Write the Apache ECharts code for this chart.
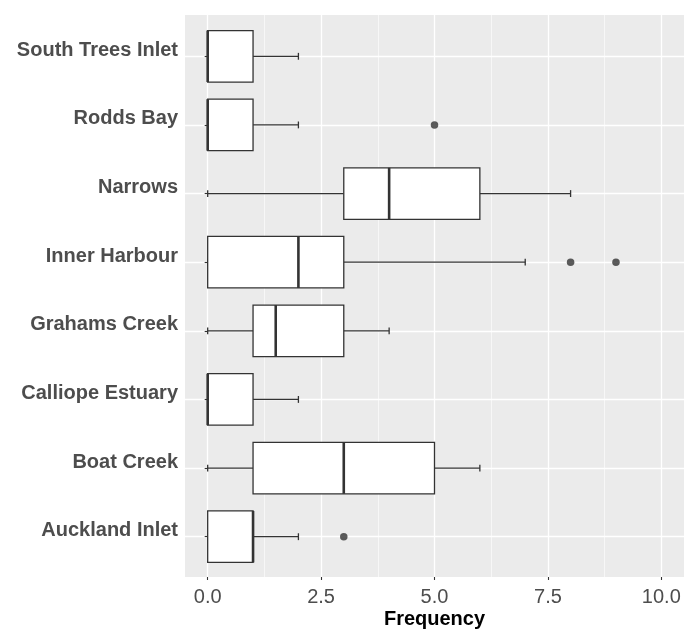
<!DOCTYPE html>
<html>
<head>
<meta charset="utf-8">
<script src="https://cdn.jsdelivr.net/npm/echarts@6/dist/echarts.min.js"></script>
<style>
html,body{margin:0;padding:0;background:#fff;}
#chart{width:684px;height:631px;}
</style>
</head>
<body>
<div id="chart"></div>
<script>
// Categories, top to bottom
const categories = ['South Trees Inlet','Rodds Bay','Narrows','Inner Harbour','Grahams Creek','Calliope Estuary','Boat Creek','Auckland Inlet'];
// Box statistics per category: lower whisker, Q1, median, Q3, upper whisker
const lowerWhisker = [0, 0, 0, 0, 0, 0, 0, 0];
const q1Values     = [0, 0, 3, 0, 1, 0, 1, 0];
const medianValues = [0, 0, 4, 2, 1.5, 0, 3, 1];
const q3Values     = [1, 1, 6, 3, 3, 1, 5, 1];
const upperWhisker = [2, 2, 8, 7, 4, 2, 6, 2];
// Outliers: [value, category]
const outliers = [[5,'Rodds Bay'],[8,'Inner Harbour'],[9,'Inner Harbour'],[3,'Auckland Inlet']];
const xTicks = [0, 2.5, 5, 7.5, 10];
const xMinorTicks = [1.25, 3.75, 6.25, 8.75];
const xMin = -0.5, xMax = 10.5;

const boxData = categories.map((c, i) => [i, lowerWhisker[i], q1Values[i], medianValues[i], q3Values[i], upperWhisker[i]]);

const chart = echarts.init(document.getElementById('chart'), null, {renderer:'canvas'});
const FONT = '"Liberation Sans", Arial, sans-serif';
const STROKE = '#333333';

chart.setOption({
  animation: false,
  backgroundColor: '#ffffff',
  grid: [
    {left: 185, width: 499, top: 15, bottom: 54, show: true, backgroundColor: '#EBEBEB', borderWidth: 0, containLabel: false, outerBoundsMode: 'none'},
    {left: 185, width: 499, top: 56.3, height: 480.4, show: false, containLabel: false, outerBoundsMode: 'none'}
  ],
  xAxis: [
    {
      gridIndex: 0, type: 'value', min: xMin, max: xMax,
      axisLine: {show: false},
      axisTick: {show: true, length: 3, lineStyle: {color: STROKE, width: 1.1}, customValues: xTicks},
      axisLabel: {customValues: xTicks, formatter: v => v.toFixed(1), color: '#4D4D4D', fontSize: 20, fontFamily: FONT, margin: 10},
      splitLine: {show: true, lineStyle: {color: '#ffffff', width: 1.3}},
      name: 'Frequency', nameLocation: 'middle', nameGap: 32, nameMoveOverlap: false,
      nameTextStyle: {color: '#000000', fontSize: 20, fontWeight: 'bold', fontFamily: FONT}
    },
    {
      gridIndex: 0, type: 'value', min: xMin, max: xMax, position: 'bottom',
      axisLine: {show: false},
      axisTick: {show: false, customValues: xMinorTicks},
      axisLabel: {show: false, customValues: xMinorTicks},
      splitLine: {show: true, lineStyle: {color: '#ffffff', width: 0.6}}
    },
    {gridIndex: 1, type: 'value', min: xMin, max: xMax, show: false}
  ],
  yAxis: [
    {gridIndex: 0, type: 'value', show: false},
    {
      gridIndex: 1, type: 'category', data: categories, inverse: true, boundaryGap: false,
      axisLine: {show: false},
      axisTick: {show: true, length: 3, lineStyle: {color: STROKE, width: 1.1}},
      axisLabel: {color: '#4D4D4D', fontSize: 20, fontWeight: 'bold', fontFamily: FONT, margin: 7, verticalAlign: 'bottom', lineHeight: 12},
      splitLine: {show: true, lineStyle: {color: '#ffffff', width: 1.3}}
    }
  ],
  series: [
    {
      type: 'custom',
      xAxisIndex: 2, yAxisIndex: 1,
      data: boxData,
      encode: {x: [1,2,3,4,5], y: 0},
      clip: false,
      renderItem: function (params, api) {
        const cat = api.value(0);
        const step = api.size([0, 1])[1];
        const half = step * 0.375;
        const cap = step * 0.05;
        const pLo = api.coord([api.value(1), cat]);
        const pQ1 = api.coord([api.value(2), cat]);
        const pMed = api.coord([api.value(3), cat]);
        const pQ3 = api.coord([api.value(4), cat]);
        const pHi = api.coord([api.value(5), cat]);
        const y = pQ1[1];
        const ls = {stroke: STROKE, lineWidth: 1.3};
        return {
          type: 'group',
          children: [
            {type: 'line', shape: {x1: pLo[0], y1: y, x2: pQ1[0], y2: y}, style: ls},
            {type: 'line', shape: {x1: pQ3[0], y1: y, x2: pHi[0], y2: y}, style: ls},
            {type: 'line', shape: {x1: pLo[0], y1: y - cap, x2: pLo[0], y2: y + cap}, style: ls},
            {type: 'line', shape: {x1: pHi[0], y1: y - cap, x2: pHi[0], y2: y + cap}, style: ls},
            {type: 'rect', shape: {x: pQ1[0], y: y - half, width: pQ3[0] - pQ1[0], height: half * 2}, style: {fill: '#ffffff', stroke: STROKE, lineWidth: 1.3}},
            {type: 'line', shape: {x1: pMed[0], y1: y - half, x2: pMed[0], y2: y + half}, style: {stroke: STROKE, lineWidth: 2.6}}
          ]
        };
      }
    },
    {
      type: 'scatter',
      xAxisIndex: 2, yAxisIndex: 1,
      data: outliers,
      symbol: 'circle', symbolSize: 7.5,
      itemStyle: {color: '#333333'},
      clip: false
    }
  ]
});
</script>
</body>
</html>
